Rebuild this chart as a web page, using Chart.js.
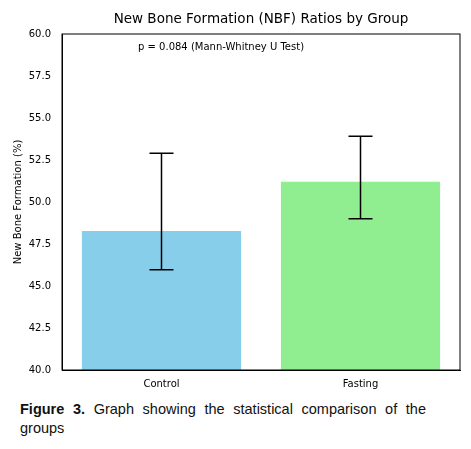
<!DOCTYPE html>
<html><head><meta charset="utf-8">
<script src="https://cdn.jsdelivr.net/npm/chart.js@4/dist/chart.umd.min.js"></script>
<style>
body{margin:0;background:#fff;}
#cap{position:absolute;left:20px;top:400px;width:406px;font-family:"Liberation Sans",Arial,sans-serif;font-size:14.5px;line-height:19px;text-align:justify;text-align-last:left;color:#111;}
</style></head><body>
<canvas id="c" width="471" height="390" style="position:absolute;left:0;top:0"></canvas>
<div id="cap"><b>Figure 3.</b> Graph showing the statistical comparison of the groups</div>
<script>
const categories=["Control","Fasting"];
const means=[48.27,51.2];
const errLow=[45.96,49.0];
const errHigh=[52.9,53.92];
const yTicks=[40,42.5,45,47.5,50,52.5,55,57.5,60];
const colors=["#87CEEB","#90EE90"];
const errPlugin={id:"err",afterDatasetsDraw(ch){
 const x=ch.scales.x,y=ch.scales.y,c=ch.ctx;c.save();c.strokeStyle="#000";c.lineWidth=1.5;
 categories.forEach((k,i)=>{const px=x.getPixelForValue(i),a=y.getPixelForValue(errLow[i]),b=y.getPixelForValue(errHigh[i]);
 c.beginPath();c.moveTo(px,a);c.lineTo(px,b);c.moveTo(px-12,a);c.lineTo(px+12,a);c.moveTo(px-12,b);c.lineTo(px+12,b);c.stroke();});
 const ca=ch.chartArea;c.strokeStyle="#000";c.lineWidth=1;c.strokeRect(ca.left,ca.top,ca.right-ca.left,ca.bottom-ca.top);
 c.fillStyle="#000";c.font="10px 'DejaVu Sans'";c.textBaseline="middle";c.fillText("p = 0.084 (Mann-Whitney U Test)",ca.left+76,ca.top+13);
 c.font="13.5px 'DejaVu Sans'";c.textAlign="center";c.fillText("New Bone Formation (NBF) Ratios by Group",(ca.left+ca.right)/2,ca.top-15);
 c.restore();}};
new Chart(document.getElementById("c"),{type:"bar",
data:{labels:categories,datasets:[{data:means,backgroundColor:colors,barPercentage:0.8,categoryPercentage:1}]},
options:{responsive:false,animation:false,layout:{padding:{top:34,right:11,bottom:0,left:10}},
plugins:{legend:{display:false},tooltip:{enabled:false},title:{display:false}},
scales:{x:{grid:{display:false},border:{color:"#000"},ticks:{color:"#000",padding:0,font:{family:"DejaVu Sans",size:10}}},
 y:{min:40,max:60,afterBuildTicks:s=>{s.ticks=yTicks.map(v=>({value:v}));},afterFit:s=>{s.width=52;},
  grid:{display:false,drawTicks:true},border:{color:"#000"},
  ticks:{color:"#000",font:{family:"DejaVu Sans",size:10},callback:v=>v.toFixed(1)},
  title:{display:true,text:"New Bone Formation (%)",color:"#000",font:{family:"DejaVu Sans",size:10},padding:2}}}},
plugins:[errPlugin]});
</script></body></html>
